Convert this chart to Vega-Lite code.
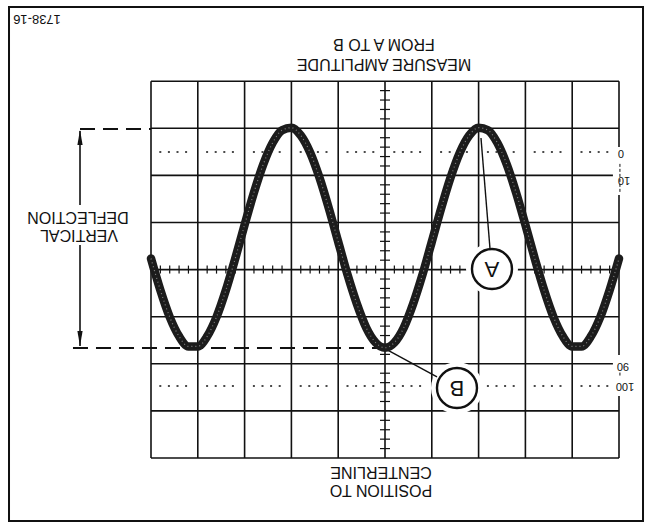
{
  "$schema": "https://vega.github.io/schema/vega-lite/v6.json",
  "width": 647,
  "height": 524,
  "padding": 0,
  "autosize": {"type": "fit", "contains": "padding"},
  "background": "white",
  "config": {"view": {"stroke": null}, "axis": {"disable": true}},
  "datasets": {
    "frame": [{"x": -3.034, "y": 9.575, "x2": 10.513, "y2": -1.338}],
    "grid": [
      {"x": 0, "y": 0, "x2": 10, "y2": 0},
      {"x": 0, "y": 1, "x2": 10, "y2": 1},
      {"x": 0, "y": 2, "x2": 9.87, "y2": 2},
      {"x": 0, "y": 3, "x2": 10, "y2": 3},
      {"x": 0, "y": 4, "x2": 10, "y2": 4},
      {"x": 0, "y": 5, "x2": 10, "y2": 5},
      {"x": 0, "y": 6, "x2": 9.87, "y2": 6},
      {"x": 0, "y": 7, "x2": 10, "y2": 7},
      {"x": 0, "y": 8, "x2": 10, "y2": 8},
      {"x": 0, "y": 0, "x2": 0, "y2": 8},
      {"x": 1, "y": 0, "x2": 1, "y2": 8},
      {"x": 2, "y": 0, "x2": 2, "y2": 8},
      {"x": 3, "y": 0, "x2": 3, "y2": 8},
      {"x": 4, "y": 0, "x2": 4, "y2": 8},
      {"x": 5, "y": 0, "x2": 5, "y2": 8},
      {"x": 6, "y": 0, "x2": 6, "y2": 8},
      {"x": 7, "y": 0, "x2": 7, "y2": 8},
      {"x": 8, "y": 0, "x2": 8, "y2": 8},
      {"x": 9, "y": 0, "x2": 9, "y2": 8},
      {"x": 10, "y": 6.603, "x2": 10, "y2": 8},
      {"x": 10, "y": 2.187, "x2": 10, "y2": 5.584},
      {"x": 10, "y": 0, "x2": 10, "y2": 1.316}
    ],
    "thinedge": [
      {"x": 10.02, "y": 5.65, "x2": 10.02, "y2": 6.25},
      {"x": 10.02, "y": 1.75, "x2": 10.02, "y2": 1.85}
    ],
    "xticks": [
      {"t": 0.2}, {"t": 0.4}, {"t": 0.6}, {"t": 0.8},
      {"t": 1.2}, {"t": 1.4}, {"t": 1.6}, {"t": 1.8},
      {"t": 2.2}, {"t": 2.4}, {"t": 2.6}, {"t": 2.8},
      {"t": 3.2}, {"t": 3.4}, {"t": 3.6}, {"t": 3.8},
      {"t": 4.2}, {"t": 4.4}, {"t": 4.6}, {"t": 4.8},
      {"t": 5.2}, {"t": 5.4}, {"t": 5.6}, {"t": 5.8},
      {"t": 6.2}, {"t": 6.4}, {"t": 6.6}, {"t": 6.8},
      {"t": 7.2}, {"t": 7.4}, {"t": 7.6}, {"t": 7.8},
      {"t": 8.2}, {"t": 8.4}, {"t": 8.6}, {"t": 8.8},
      {"t": 9.2}, {"t": 9.4}, {"t": 9.6}, {"t": 9.8}
    ],
    "yticks": [
      {"t": 0.2}, {"t": 0.4}, {"t": 0.6}, {"t": 0.8},
      {"t": 1.2}, {"t": 1.4}, {"t": 1.6}, {"t": 1.8},
      {"t": 2.2}, {"t": 2.4}, {"t": 2.6}, {"t": 2.8},
      {"t": 3.2}, {"t": 3.4}, {"t": 3.6}, {"t": 3.8},
      {"t": 4.2}, {"t": 4.4}, {"t": 4.6}, {"t": 4.8},
      {"t": 5.2}, {"t": 5.4}, {"t": 5.6}, {"t": 5.8},
      {"t": 6.2}, {"t": 6.4}, {"t": 6.6}, {"t": 6.8},
      {"t": 7.2}, {"t": 7.4}, {"t": 7.6}, {"t": 7.8}
    ],
    "dotted": [
      {"x": 0, "y": 6.497, "x2": 9.92, "y2": 6.497},
      {"x": 0, "y": 1.529, "x2": 9.92, "y2": 1.529}
    ],
    "dashed": [
      {"x": -1.517, "y": 6.985, "x2": 0, "y2": 6.985},
      {"x": -1.667, "y": 2.335, "x2": 4.979, "y2": 2.335}
    ],
    "arrowline": [
      {"x": -1.517, "y": 6.943, "x2": -1.517, "y2": 5.372},
      {"x": -1.517, "y": 4.522, "x2": -1.517, "y2": 2.378}
    ],
    "arrowup": [{"x": -1.517, "y": 6.805}],
    "arrowdown": [{"x": -1.517, "y": 2.537}],
    "halo": [{"x": 7.286, "y": 4.013}, {"x": 6.538, "y": 1.486}],
    "circles": [{"x": 7.286, "y": 4.013, "label": "A"}, {"x": 6.538, "y": 1.486, "label": "B"}],
    "pointers": [
      {"x": 7.051, "y": 6.794, "x2": 7.244, "y2": 4.437},
      {"x": 4.979, "y": 2.335, "x2": 6.111, "y2": 1.72}
    ],
    "wave": [
      {"x": 0.0, "y": 4.235}, {"x": 0.2, "y": 3.564}, {"x": 0.4, "y": 2.993}, {"x": 0.6, "y": 2.583},
      {"x": 0.8, "y": 2.368}, {"x": 1.0, "y": 2.368}, {"x": 1.2, "y": 2.583}, {"x": 1.4, "y": 2.993},
      {"x": 1.6, "y": 3.564}, {"x": 1.8, "y": 4.235}, {"x": 2.0, "y": 4.949}, {"x": 2.2, "y": 5.637},
      {"x": 2.4, "y": 6.236}, {"x": 2.6, "y": 6.692}, {"x": 2.8, "y": 6.959}, {"x": 3.0, "y": 7.013},
      {"x": 3.2, "y": 6.849}, {"x": 3.4, "y": 6.486}, {"x": 3.6, "y": 5.951}, {"x": 3.8, "y": 5.3},
      {"x": 4.0, "y": 4.591}, {"x": 4.2, "y": 3.889}, {"x": 4.4, "y": 3.269}, {"x": 4.6, "y": 2.764},
      {"x": 4.8, "y": 2.45}, {"x": 5.0, "y": 2.34}, {"x": 5.2, "y": 2.45}, {"x": 5.4, "y": 2.764},
      {"x": 5.6, "y": 3.269}, {"x": 5.8, "y": 3.889}, {"x": 6.0, "y": 4.591}, {"x": 6.2, "y": 5.3},
      {"x": 6.4, "y": 5.951}, {"x": 6.6, "y": 6.486}, {"x": 6.8, "y": 6.849}, {"x": 7.0, "y": 7.013},
      {"x": 7.2, "y": 6.959}, {"x": 7.4, "y": 6.692}, {"x": 7.6, "y": 6.236}, {"x": 7.8, "y": 5.637},
      {"x": 8.0, "y": 4.949}, {"x": 8.2, "y": 4.235}, {"x": 8.4, "y": 3.564}, {"x": 8.6, "y": 2.993},
      {"x": 8.8, "y": 2.583}, {"x": 9.0, "y": 2.368}, {"x": 9.2, "y": 2.368}, {"x": 9.4, "y": 2.583},
      {"x": 9.6, "y": 2.993}, {"x": 9.8, "y": 3.564}, {"x": 10.0, "y": 4.235}
    ],
    "bigtext": [
      {"x": 4.979, "y": 8.79, "label": "FROM A TO B"},
      {"x": 4.979, "y": 8.365, "label": "MEASURE AMPLITUDE"},
      {"x": -1.56, "y": 5.117, "label": "DEFLECTION"},
      {"x": -1.538, "y": 4.735, "label": "VERTICAL"},
      {"x": 4.915, "y": -0.297, "label": "CENTERLINE"},
      {"x": 4.915, "y": -0.679, "label": "POSITION TO"}
    ],
    "idtext": [{"x": -2.436, "y": 9.321, "label": "1738-16"}],
    "pcttext": [
      {"x": 10.043, "y": 6.476, "label": "0"},
      {"x": 10.107, "y": 5.902, "label": "10"},
      {"x": 10.085, "y": 1.953, "label": "90"},
      {"x": 10.128, "y": 1.529, "label": "100"}
    ]
  },
  "layer": [
    {
      "data": {"name": "frame"},
      "mark": {"type": "rect", "fill": "white", "fillOpacity": 0, "stroke": "#111", "strokeWidth": 2},
      "encoding": {
        "x": {"field": "x", "type": "quantitative", "scale": {"domain": [-3.2265, 10.5983], "nice": false, "zero": false}},
        "x2": {"field": "x2"},
        "y": {"field": "y", "type": "quantitative", "scale": {"domain": [-1.4013, 9.724], "nice": false, "zero": false}},
        "y2": {"field": "y2"}
      }
    },
    {
      "data": {"name": "grid"},
      "mark": {"type": "rule", "color": "#111", "strokeWidth": 1.6},
      "encoding": {
        "x": {"field": "x", "type": "quantitative", "scale": {"domain": [-3.2265, 10.5983], "nice": false, "zero": false}},
        "x2": {"field": "x2"},
        "y": {"field": "y", "type": "quantitative", "scale": {"domain": [-1.4013, 9.724], "nice": false, "zero": false}},
        "y2": {"field": "y2"}
      }
    },
    {
      "data": {"name": "thinedge"},
      "mark": {"type": "rule", "color": "#111", "strokeWidth": 1, "strokeDash": [3, 2]},
      "encoding": {
        "x": {"field": "x", "type": "quantitative"},
        "x2": {"field": "x2"},
        "y": {"field": "y", "type": "quantitative"},
        "y2": {"field": "y2"}
      }
    },
    {
      "data": {"name": "xticks"},
      "mark": {"type": "rule", "color": "#111", "strokeWidth": 1.2},
      "encoding": {
        "x": {"field": "t", "type": "quantitative"},
        "y": {"datum": 3.915, "type": "quantitative"},
        "y2": {"datum": 4.085}
      }
    },
    {
      "data": {"name": "yticks"},
      "mark": {"type": "rule", "color": "#111", "strokeWidth": 1.2},
      "encoding": {
        "y": {"field": "t", "type": "quantitative"},
        "x": {"datum": 4.893, "type": "quantitative"},
        "x2": {"datum": 5.107}
      }
    },
    {
      "data": {"name": "dotted"},
      "mark": {"type": "rule", "color": "#111", "strokeWidth": 1.6, "strokeDash": [2, 6.6, 2, 6.6, 2, 6.6, 2, 19], "strokeDashOffset": 38.5},
      "encoding": {
        "x": {"field": "x", "type": "quantitative"},
        "x2": {"field": "x2"},
        "y": {"field": "y", "type": "quantitative"},
        "y2": {"field": "y2"}
      }
    },
    {
      "data": {"name": "dashed"},
      "mark": {"type": "rule", "color": "#111", "strokeWidth": 2, "strokeDash": [15, 8]},
      "encoding": {
        "x": {"field": "x", "type": "quantitative"},
        "x2": {"field": "x2"},
        "y": {"field": "y", "type": "quantitative"},
        "y2": {"field": "y2"}
      }
    },
    {
      "data": {"name": "arrowline"},
      "mark": {"type": "rule", "color": "#111", "strokeWidth": 1.6},
      "encoding": {
        "x": {"field": "x", "type": "quantitative"},
        "x2": {"field": "x2"},
        "y": {"field": "y", "type": "quantitative"},
        "y2": {"field": "y2"}
      }
    },
    {
      "data": {"name": "arrowup"},
      "mark": {"type": "point", "shape": "M0,-1L0.35,1L-0.35,1Z", "size": 225, "filled": true, "color": "#111", "opacity": 1},
      "encoding": {
        "x": {"field": "x", "type": "quantitative"},
        "y": {"field": "y", "type": "quantitative"}
      }
    },
    {
      "data": {"name": "arrowdown"},
      "mark": {"type": "point", "shape": "M0,1L0.35,-1L-0.35,-1Z", "size": 225, "filled": true, "color": "#111", "opacity": 1},
      "encoding": {
        "x": {"field": "x", "type": "quantitative"},
        "y": {"field": "y", "type": "quantitative"}
      }
    },
    {
      "data": {"name": "halo"},
      "mark": {"type": "point", "shape": "circle", "size": 2700, "filled": true, "color": "white", "opacity": 1},
      "encoding": {
        "x": {"field": "x", "type": "quantitative"},
        "y": {"field": "y", "type": "quantitative"}
      }
    },
    {
      "data": {"name": "pointers"},
      "mark": {"type": "rule", "color": "#111", "strokeWidth": 1.4},
      "encoding": {
        "x": {"field": "x", "type": "quantitative"},
        "x2": {"field": "x2"},
        "y": {"field": "y", "type": "quantitative"},
        "y2": {"field": "y2"}
      }
    },
    {
      "data": {"name": "circles"},
      "mark": {"type": "point", "shape": "circle", "size": 1600, "filled": true, "fill": "white", "stroke": "#111", "strokeWidth": 2.4, "opacity": 1},
      "encoding": {
        "x": {"field": "x", "type": "quantitative"},
        "y": {"field": "y", "type": "quantitative"}
      }
    },
    {
      "data": {"name": "circles"},
      "mark": {"type": "text", "angle": 180, "align": "center", "baseline": "middle", "font": "Liberation Sans", "fontSize": 22, "color": "#111"},
      "encoding": {
        "x": {"field": "x", "type": "quantitative"},
        "y": {"field": "y", "type": "quantitative"},
        "text": {"field": "label"}
      }
    },
    {
      "data": {"name": "wave"},
      "mark": {"type": "line", "color": "#1c1c1c", "strokeWidth": 8.5, "interpolate": "monotone", "strokeCap": "round"},
      "encoding": {
        "x": {"field": "x", "type": "quantitative"},
        "y": {"field": "y", "type": "quantitative"}
      }
    },
    {
      "data": {"name": "wave"},
      "mark": {"type": "line", "color": "white", "strokeWidth": 1.2, "opacity": 0.45, "interpolate": "monotone", "strokeDash": [1, 3]},
      "encoding": {
        "x": {"field": "x", "type": "quantitative"},
        "y": {"field": "y", "type": "quantitative"}
      }
    },
    {
      "data": {"name": "bigtext"},
      "mark": {"type": "text", "angle": 180, "align": "center", "baseline": "middle", "font": "Liberation Sans", "fontSize": 16, "color": "#111"},
      "encoding": {
        "x": {"field": "x", "type": "quantitative"},
        "y": {"field": "y", "type": "quantitative"},
        "text": {"field": "label"}
      }
    },
    {
      "data": {"name": "idtext"},
      "mark": {"type": "text", "angle": 180, "align": "center", "baseline": "middle", "font": "Liberation Sans", "fontSize": 13, "color": "#111"},
      "encoding": {
        "x": {"field": "x", "type": "quantitative"},
        "y": {"field": "y", "type": "quantitative"},
        "text": {"field": "label"}
      }
    },
    {
      "data": {"name": "pcttext"},
      "mark": {"type": "text", "angle": 180, "align": "center", "baseline": "middle", "font": "Liberation Sans", "fontSize": 11, "color": "#111"},
      "encoding": {
        "x": {"field": "x", "type": "quantitative"},
        "y": {"field": "y", "type": "quantitative"},
        "text": {"field": "label"}
      }
    }
  ]
}
